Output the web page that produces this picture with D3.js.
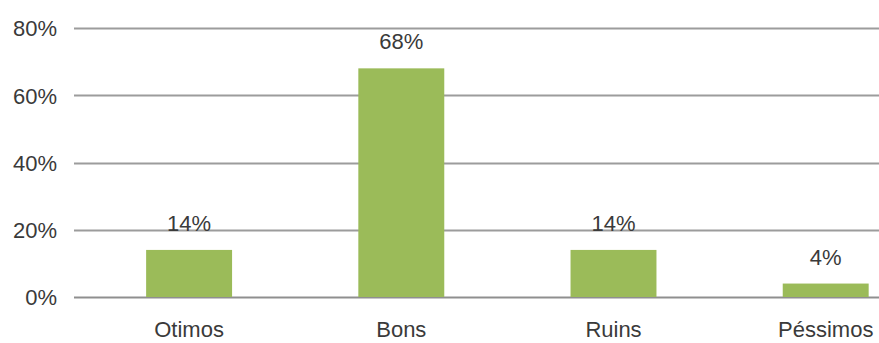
<!DOCTYPE html>
<html>
<head>
<meta charset="utf-8">
<script src="https://cdn.jsdelivr.net/npm/d3@7/dist/d3.min.js"></script>
<style>
  html, body { margin: 0; padding: 0; background: #fff; }
  svg { display: block; }
  text { font-family: "Liberation Sans", Arial, sans-serif; fill: #3a3a3a; }
</style>
</head>
<body>
<svg id="chart" width="879" height="343"></svg>
<script>
// Avaliação: share of responses per category
const categories = ["Otimos", "Bons", "Ruins", "Péssimos"];
const values = [0.14, 0.68, 0.14, 0.04];
const valueLabels = ["14%", "68%", "14%", "4%"];
const yTicks = [0, 0.2, 0.4, 0.6, 0.8];

const svg = d3.select("#chart");
const W = 879, H = 343;
const gridLeft = 74, gridRight = W;

const y = d3.scaleLinear().domain([0, 0.8]).range([297, 28]);
const x = d3.scaleBand()
  .domain(categories)
  .range([83, 931.8])
  .paddingInner(0.595)
  .paddingOuter(0.2975);

// horizontal gridlines
svg.append("g")
  .selectAll("line")
  .data(yTicks)
  .join("line")
  .attr("x1", gridLeft)
  .attr("x2", gridRight)
  .attr("y1", d => Math.round(y(d)) + 0.5)
  .attr("y2", d => Math.round(y(d)) + 0.5)
  .attr("stroke", d => d === 0 ? "#8f8f8f" : "#9c9c9c")
  .attr("stroke-width", 2);

// y axis labels
const yAxis = d3.axisLeft(y)
  .tickValues(yTicks)
  .tickFormat(d3.format(".0%"))
  .tickSize(0)
  .tickPadding(0);
const gy = svg.append("g")
  .attr("transform", `translate(57,0)`)
  .call(yAxis);
gy.select(".domain").remove();
gy.selectAll("text")
  .attr("font-size", 22)
  .attr("font-family", "Liberation Sans, Arial, sans-serif")
  .attr("fill", "#3a3a3a")
  .attr("dy", "0.36em");

// bars
svg.append("g")
  .selectAll("rect")
  .data(categories)
  .join("rect")
  .attr("x", d => x(d))
  .attr("width", x.bandwidth())
  .attr("y", (d, i) => y(values[i]))
  .attr("height", (d, i) => y(0) - y(values[i]))
  .attr("fill", "#9bbb59");

// value labels above bars
svg.append("g")
  .selectAll("text")
  .data(categories)
  .join("text")
  .attr("x", d => x(d) + x.bandwidth() / 2)
  .attr("y", (d, i) => y(values[i]) - 19)
  .attr("text-anchor", "middle")
  .attr("font-size", 22)
  .text((d, i) => valueLabels[i]);

// category axis labels
const xAxis = d3.axisBottom(x).tickSize(0).tickPadding(0);
const gx = svg.append("g")
  .attr("transform", `translate(0,${y(0)})`)
  .call(xAxis);
gx.select(".domain").remove();
gx.selectAll("text")
  .attr("font-size", 22)
  .attr("font-family", "Liberation Sans, Arial, sans-serif")
  .attr("fill", "#3a3a3a")
  .attr("dy", null)
  .attr("y", 40);
</script>
</body>
</html>
